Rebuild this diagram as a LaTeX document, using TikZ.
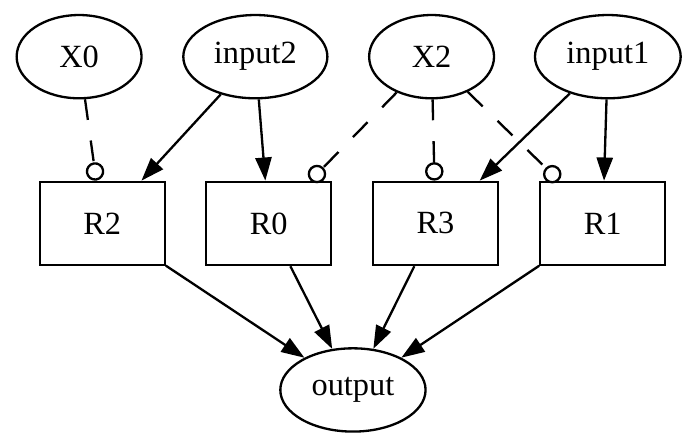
\documentclass[tikz,border=0pt]{standalone}
\usepackage{fontspec}
\setmainfont{Liberation Serif}
\usepackage{tikz}
\usetikzlibrary{shapes.geometric,arrows.meta}
\pgfdeclarelayer{bg}
\pgfsetlayers{bg,main}
\tikzset{
    var/.style={ellipse, draw, line width=1pt, minimum width=54pt, minimum height=36pt,
                inner sep=0pt, font=\fontsize{14pt}{16pt}\selectfont},
    reg/.style={rectangle, draw, line width=1pt, minimum width=54pt, minimum height=36pt,
                inner sep=0pt, font=\fontsize{14pt}{16pt}\selectfont}
}
\tikzset{
    wire/.style={line width=1pt, -{Triangle[length=10pt, width=7pt]}},
    ctrl/.style={line width=1pt, dash pattern=on 9pt off 9pt, -{Circle[open, length=8pt]}}
}

\begin{document}
\begin{tikzpicture}
  \useasboundingbox (0pt, 0pt) rectangle (296.6pt, 192.6pt);

  \node[var] (x0) at (34.2pt, 168.1pt) {X0};
  \node[var, minimum width=62.3pt] (in2) at (110.4pt, 168.1pt) {input2};
  \node[var] (x2) at (186.6pt, 168.1pt) {X2};
  \node[var, minimum width=63pt] (in1) at (262.8pt, 168.1pt) {input1};

  \node[reg] (r2) at (44.2pt, 96pt) {R2};
  \node[reg] (r0) at (116.2pt, 96pt) {R0};
  \node[reg] (r3) at (188.3pt, 96pt) {R3};
  \node[reg] (r1) at (260.6pt, 96pt) {R1};

  \node[var, minimum width=62.8pt] (out) at (152.6pt, 24pt) {output};

  \begin{pgfonlayer}{bg}
	  \draw (x0) edge[ctrl] (r2);
	  \draw (x2) edge[ctrl] (r0); \draw (x2) edge[ctrl] (r3);
	  \draw (x2) edge[ctrl] (r1);

	  \draw (in2) edge[wire] (r2); \draw (in2) edge[wire] (r0);
	  \draw (in1) edge[wire] (r3); \draw (in1) edge[wire] (r1);

	  \draw (r2) edge[wire] (out); \draw (r0) edge[wire] (out);
	  \draw (r3) edge[wire] (out); \draw (r1) edge[wire] (out);
  \end{pgfonlayer}

\end{tikzpicture}
\end{document}
